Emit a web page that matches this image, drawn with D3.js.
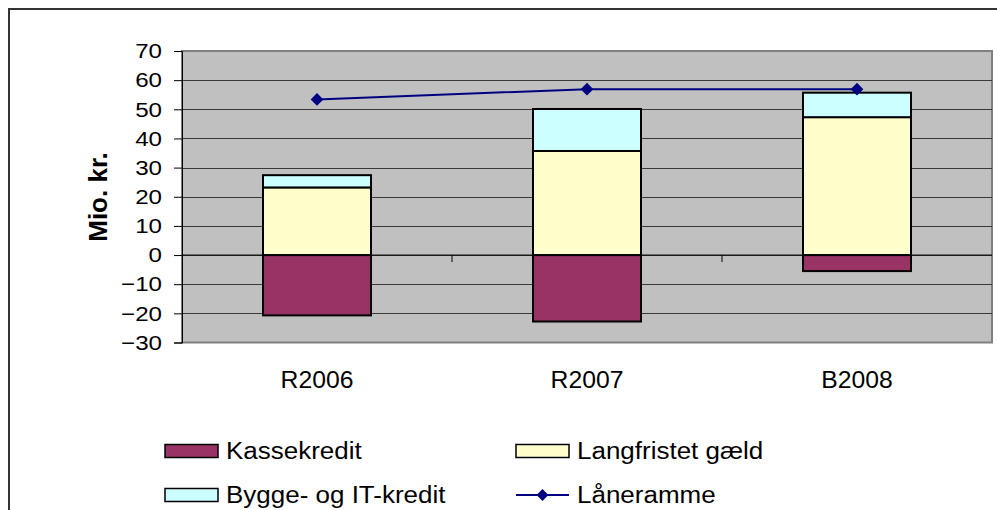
<!DOCTYPE html>
<html>
<head>
<meta charset="utf-8">
<script src="https://cdn.jsdelivr.net/npm/d3@7"></script>
<style>
  html, body { margin: 0; padding: 0; background: #ffffff; }
  svg { display: block; }
  text { font-family: Arial, "Liberation Sans", sans-serif; fill: #000; }
</style>
</head>
<body>
<svg id="chart" width="997" height="510"></svg>
<script>
const categories = ["R2006", "R2007", "B2008"];
const kassekredit = [-20.7, -22.8, -5.5];
const langfristet = [23.2, 35.7, 47.3];
const bygge = [4.2, 14.4, 8.4];
const laaneramme = [53.4, 56.9, 56.9];
const yTicks = [-30, -20, -10, 0, 10, 20, 30, 40, 50, 60, 70];
const seriesNames = ["Kassekredit", "Langfristet gæld", "Bygge- og IT-kredit", "Låneramme"];
const seriesColors = ["#993366", "#ffffcc", "#ccffff", "#000080"];

(function () {
const svg = d3.select("#chart");

// outer frame
svg.append("rect").attr("x", 9).attr("y", 9).attr("width", 1000).attr("height", 520)
  .attr("fill", "#fff").attr("stroke", "#333").attr("stroke-width", 2);

const pLeft = 182, pRight = 992, pTop = 51, pBottom = 342.5;
const x = d3.scaleBand().domain(categories).range([pLeft, pRight]).paddingInner(0.6).paddingOuter(0.3);
const y = d3.scaleLinear().domain([-30, 70]).range([pBottom, pTop]);

// plot area
svg.append("rect").attr("x", pLeft).attr("y", pTop).attr("width", pRight - pLeft).attr("height", pBottom - pTop)
  .attr("fill", "#c0c0c0").attr("stroke", "#808080").attr("stroke-width", 2);

// gridlines
svg.append("g").selectAll("line").data(yTicks.filter(d => d !== -30 && d !== 70)).join("line")
  .attr("x1", pLeft).attr("x2", pRight)
  .attr("y1", d => Math.round(y(d)) + 0.5).attr("y2", d => Math.round(y(d)) + 0.5)
  .attr("stroke", "#3a3a3a").attr("stroke-width", 1);

// y axis
const yAxis = d3.axisLeft(y).tickValues(yTicks).tickSize(8).tickPadding(12).tickFormat(d3.format("d"));
const gy = svg.append("g").attr("transform", `translate(${pLeft},0)`).call(yAxis);
gy.select(".domain").attr("stroke", "#000");
gy.selectAll(".tick line").attr("stroke", "#000");
gy.selectAll(".tick text").attr("font-size", 21).attr("font-family", "Arial, 'Liberation Sans', sans-serif")
  .attr("fill", "#000").attr("x", 0).attr("transform", "translate(-20,0) scale(1.15,1)");

// stacked bars
const bars = svg.append("g");
categories.forEach((c, i) => {
  const segs = [
    {y0: kassekredit[i], y1: 0, c: seriesColors[0]},
    {y0: 0, y1: langfristet[i], c: seriesColors[1]},
    {y0: langfristet[i], y1: langfristet[i] + bygge[i], c: seriesColors[2]}
  ];
  bars.selectAll(null).data(segs).join("rect")
    .attr("x", x(c)).attr("width", x.bandwidth())
    .attr("y", s => y(Math.max(s.y0, s.y1)))
    .attr("height", s => Math.abs(y(s.y0) - y(s.y1)))
    .attr("fill", s => s.c).attr("stroke", "#000").attr("stroke-width", 2);
});

// zero axis line and category ticks
svg.append("line").attr("x1", pLeft).attr("x2", pRight).attr("y1", y(0)).attr("y2", y(0))
  .attr("stroke", "#000").attr("stroke-width", 1);
svg.append("g").selectAll("line").data(categories.slice(1)).join("line")
  .attr("x1", c => x(c) - (x.step() - x.bandwidth()) / 2)
  .attr("x2", c => x(c) - (x.step() - x.bandwidth()) / 2)
  .attr("y1", y(0)).attr("y2", y(0) + 7).attr("stroke", "#000");

// category labels
svg.append("g").selectAll("text").data(categories).join("text")
  .attr("transform", c => `translate(${x(c) + x.bandwidth() / 2},388) scale(1.03,1)`)
  .attr("text-anchor", "middle").attr("font-size", 24).text(c => c);

// line series
const line = d3.line().x((d, i) => x(categories[i]) + x.bandwidth() / 2).y(d => y(d));
svg.append("path").datum(laaneramme).attr("d", line).attr("fill", "none")
  .attr("stroke", seriesColors[3]).attr("stroke-width", 2);
svg.append("g").selectAll("path").data(laaneramme).join("path")
  .attr("transform", (d, i) => `translate(${x(categories[i]) + x.bandwidth() / 2},${y(d)}) rotate(45)`)
  .attr("d", d3.symbol().type(d3.symbolSquare).size(80))
  .attr("fill", seriesColors[3]);

// y title
svg.append("text").attr("transform", "translate(107,197) rotate(-90)")
  .attr("text-anchor", "middle").attr("font-size", 26).attr("font-weight", "bold").text("Mio. kr.");

// legend
const legendPos = [[165, 451], [516, 451], [165, 495], [516, 495]];
const lg = svg.append("g");
seriesNames.forEach((n, i) => {
  const [lx, ly] = legendPos[i];
  if (i < 3) {
    lg.append("rect").attr("x", lx).attr("y", ly - 6.5).attr("width", 53).attr("height", 13)
      .attr("fill", seriesColors[i]).attr("stroke", "#000").attr("stroke-width", 1.5);
  } else {
    lg.append("line").attr("x1", lx).attr("x2", lx + 53).attr("y1", ly).attr("y2", ly)
      .attr("stroke", seriesColors[3]).attr("stroke-width", 2);
    lg.append("path").attr("transform", `translate(${lx + 26.5},${ly}) rotate(45)`)
      .attr("d", d3.symbol().type(d3.symbolSquare).size(70)).attr("fill", seriesColors[3]);
  }
  lg.append("text").attr("transform", `translate(${lx + 61},${ly + 7.5}) scale(1.13,1)`)
    .attr("font-size", 23).text(n);
});
})();
</script>
</body>
</html>
